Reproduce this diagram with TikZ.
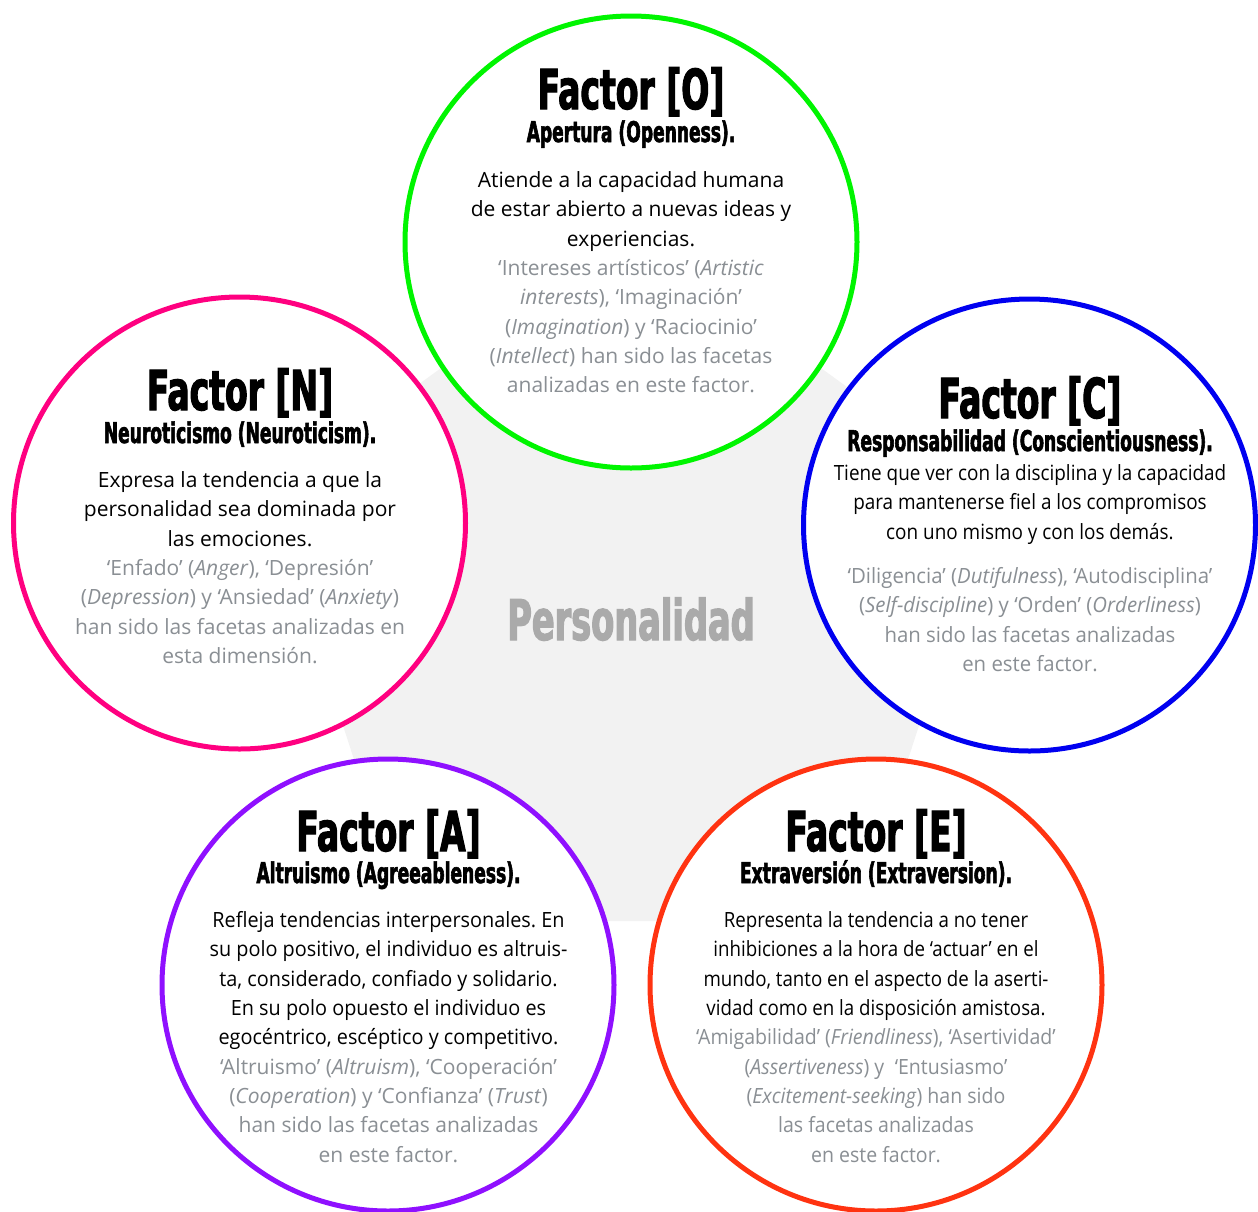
\documentclass[tikz,border=0pt]{standalone}
\usepackage{fontspec}
\setmainfont{Open Sans}
\newfontfamily\titlefont[FakeStretch=0.6,FakeBold=2]{DejaVu Sans Bold}
\newfontfamily\narrowfont[FakeStretch=0.90]{Open Sans}
\newfontfamily\enarrowfont[FakeStretch=0.89]{Open Sans}
\newfontfamily\midfont[FakeStretch=0.945]{Open Sans}
\newfontfamily\cgrayfont[FakeStretch=0.97]{Open Sans}
\newfontfamily\egrayfont[FakeStretch=0.93]{Open Sans}
\frenchspacing
\definecolor{cO}{RGB}{0,245,0}
\definecolor{cN}{RGB}{255,0,128}
\definecolor{cC}{RGB}{0,0,240}
\definecolor{cA}{RGB}{143,16,255}
\definecolor{cE}{RGB}{255,51,17}
\definecolor{facetgray}{RGB}{138,143,148}
\definecolor{pentagray}{RGB}{242,242,242}
\definecolor{persgray}{RGB}{170,170,170}
\tikzset{
  ttl/.style={anchor=base, inner sep=0pt, font=\titlefont\fontsize{55}{55}\selectfont},
  sub/.style={anchor=base, inner sep=0pt, font=\titlefont\fontsize{28.5}{28.5}\selectfont},
  bodyl/.style={anchor=base, inner sep=0pt, font=\fontsize{21}{24}\selectfont\frenchspacing},
  facet/.style={bodyl, text=facetgray},
  abody/.style={anchor=base, inner sep=0pt, font=\midfont\fontsize{21}{24}\selectfont\frenchspacing},
  cbody/.style={anchor=base, inner sep=0pt, font=\narrowfont\fontsize{21}{24}\selectfont\frenchspacing},
  cfacet/.style={anchor=base, inner sep=0pt, text=facetgray, font=\cgrayfont\fontsize{21}{24}\selectfont\frenchspacing},
  ebody/.style={anchor=base, inner sep=0pt, font=\enarrowfont\fontsize{21}{24}\selectfont\frenchspacing},
  efacet/.style={anchor=base, inner sep=0pt, text=facetgray, font=\egrayfont\fontsize{21}{24}\selectfont\frenchspacing},
  ring/.style={line width=5pt, draw=#1, fill=white},
}
\begin{document}
\begin{tikzpicture}[x=1pt,y=-1pt]
\useasboundingbox (0,0) rectangle (1258,1211);
% central pentagon
\fill[pentagray, rounded corners=6pt] (631,230) -- (994.3,494) -- (855.5,921) -- (406.5,921) -- (267.7,494) -- cycle;
\node[anchor=base, inner sep=0pt, text=persgray, font=\titlefont\fontsize{56}{56}\selectfont] (pers) at (631,640) {Personalidad};
% circles
\draw[ring=cO] (631,242) circle (226);
\draw[ring=cN] (239.5,523) circle (226);
\draw[ring=cC] (1029.5,525) circle (226);
\draw[ring=cA] (388,985) circle (226);
\draw[ring=cE] (876,985) circle (226);
% O
\node[ttl] (oT) at (631,109) {Factor [O]};
\node[sub] (oS) at (631,142) {Apertura (Openness).};
\node[bodyl] (o1) at (631,187) {Atiende a la capacidad humana};
\node[bodyl] (o2) at (631,216.5) {de estar abierto a nuevas ideas y};
\node[bodyl] (o3) at (631,246) {experiencias.};
\node[facet] (o4) at (631,275) {‘Intereses artísticos’ (\textit{Artistic}};
\node[facet] (o5) at (631,304) {\textit{interests}), ‘Imaginación’};
\node[facet] (o6) at (631,334) {(\textit{Imagination}) y ‘Raciocinio’};
\node[facet] (o7) at (631,363) {(\textit{Intellect}) han sido las facetas};
\node[facet] (o8) at (631,392) {analizadas en este factor.};
% N
\node[ttl] (nT) at (240,410) {Factor [N]};
\node[sub] (nS) at (240,443) {Neuroticismo (Neuroticism).};
\node[bodyl] (n1) at (240,487) {Expresa la tendencia a que la};
\node[bodyl] (n2) at (240,516) {personalidad sea dominada por};
\node[bodyl] (n3) at (240,546) {las emociones.};
\node[facet] (n4) at (240,575) {‘Enfado’ (\textit{Anger}), ‘Depresión’};
\node[facet] (n5) at (240,604) {(\textit{Depression}) y ‘Ansiedad’ (\textit{Anxiety})};
\node[facet] (n6) at (240,634) {han sido las facetas analizadas en};
\node[facet] (n7) at (240,663) {esta dimensión.};
% C
\node[ttl] (cT) at (1030,418) {Factor [C]};
\node[sub] (cS) at (1030,451) {Responsabilidad (Conscientiousness).};
\node[cbody] (c1) at (1030,480) {Tiene que ver con la disciplina y la capacidad};
\node[cbody] (c2) at (1030,509.5) {para mantenerse fiel a los compromisos};
\node[cbody] (c3) at (1030,539) {con uno mismo y con los demás.};
\node[cfacet] (c4) at (1030,583) {‘Diligencia’ (\textit{Dutifulness}), ‘Autodisciplina’};
\node[cfacet] (c5) at (1030,612) {(\textit{Self-discipline}) y ‘Orden’ (\textit{Orderliness})};
\node[cfacet] (c6) at (1030,642) {han sido las facetas analizadas};
\node[cfacet] (c7) at (1030,671) {en este factor.};
% A
\node[ttl] (aT) at (388.5,851) {Factor [A]};
\node[sub] (aS) at (388.5,883) {Altruismo (Agreeableness).};
\node[abody] (a1) at (388.5,927) {Refleja tendencias interpersonales. En};
\node[abody] (a2) at (388.5,956) {su polo positivo, el individuo es altruis-};
\node[abody] (a3) at (388.5,986) {ta, considerado, confiado y solidario.};
\node[abody] (a4) at (388.5,1015) {En su polo opuesto el individuo es};
\node[abody] (a5) at (388.5,1044) {egocéntrico, escéptico y competitivo.};
\node[facet] (a6) at (388.5,1074) {‘Altruismo’ (\textit{Altruism}), ‘Cooperación’};
\node[facet] (a7) at (388.5,1103) {(\textit{Cooperation}) y ‘Confianza’ (\textit{Trust})};
\node[facet] (a8) at (388.5,1132) {han sido las facetas analizadas};
\node[facet] (a9) at (388.5,1162) {en este factor.};
% E
\node[ttl] (eT) at (876,851) {Factor [E]};
\node[sub] (eS) at (876,883) {Extraversión (Extraversion).};
\node[ebody] (e1) at (876,927) {Representa la tendencia a no tener};
\node[ebody] (e2) at (876,956) {inhibiciones a la hora de ‘actuar’ en el};
\node[ebody] (e3) at (876,986) {mundo, tanto en el aspecto de la aserti-};
\node[ebody] (e4) at (876,1015) {vidad como en la disposición amistosa.};
\node[efacet] (e5) at (876,1044) {‘Amigabilidad’ (\textit{Friendliness}), ‘Asertividad’};
\node[efacet] (e6) at (876,1074) {(\textit{Assertiveness}) y\enspace‘Entusiasmo’};
\node[efacet] (e7) at (876,1103) {(\textit{Excitement-seeking}) han sido};
\node[efacet] (e8) at (876,1132) {las facetas analizadas};
\node[efacet] (e9) at (876,1162) {en este factor.};
\end{tikzpicture}
\end{document}
